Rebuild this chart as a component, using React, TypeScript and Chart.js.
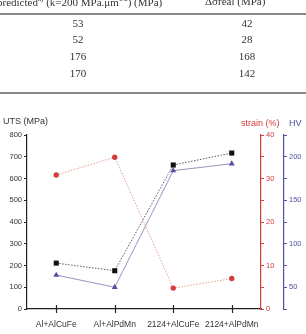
import React, { useEffect, useRef } from "react";
import { Chart, registerables } from "chart.js";

Chart.register(...registerables);

const categories = ["Al+AlCuFe", "Al+AlPdMn", "2124+AlCuFe", "2124+AlPdMn"];
const utsValues = [211, 176, 662, 717];
const strainValues = [30.8, 34.9, 4.8, 7.0];
const hvValues = [64, 50, 184, 192];

const tablePredicted = ["53", "52", "176", "170"];
const tableReal = ["42", "28", "168", "142"];

const RED = "#d43c3c";
const BLUE = "#4f4f9e";

const crossTicks = {
  id: "crossTicks",
  afterDraw(chart: any) {
    const x = chart.scales.x;
    const ctx = chart.ctx;
    ctx.save();
    ctx.strokeStyle = "#222";
    ctx.lineWidth = 1.2;
    categories.forEach((_, i) => {
      const px = Math.round(x.getPixelForValue(i)) + 0.5;
      ctx.beginPath();
      ctx.moveTo(px, x.top - 4);
      ctx.lineTo(px, x.top + 4);
      ctx.stroke();
    });
    ctx.restore();
  },
};

export default function App() {
  const ref = useRef<HTMLCanvasElement>(null);
  useEffect(() => {
    if (!ref.current) return;
    const font = { family: "Liberation Sans, Arial, sans-serif", size: 7.5 };
    const chart = new Chart(ref.current, {
      type: "line",
      data: {
        labels: categories,
        datasets: [
          {
            label: "UTS",
            data: utsValues,
            yAxisID: "y",
            borderColor: "#333",
            backgroundColor: "#111",
            borderWidth: 0.8,
            borderDash: [1.5, 1.5],
            pointStyle: "rect",
            pointRadius: 3.6,
            pointBorderWidth: 0,
          },
          {
            label: "strain",
            data: strainValues,
            yAxisID: "strain",
            borderColor: "#d98a7a",
            backgroundColor: RED,
            borderWidth: 0.8,
            borderDash: [1.5, 1.5],
            pointStyle: "circle",
            pointRadius: 2.7,
            pointBorderWidth: 0,
          },
          {
            label: "HV",
            data: hvValues,
            yAxisID: "hv",
            borderColor: "#7a7ab0",
            backgroundColor: BLUE,
            borderWidth: 0.8,
            pointStyle: "triangle",
            pointRadius: 3.4,
            pointBorderWidth: 0,
          },
        ],
      },
      options: {
        responsive: false,
        animation: false,
        devicePixelRatio: 1,
        layout: { padding: { top: 135, bottom: 0, left: 0, right: 0 } },
        plugins: { legend: { display: false }, tooltip: { enabled: false } },
        scales: {
          x: {
            offset: true,
            grid: { display: false, drawOnChartArea: false, offset: false },
            border: { display: true, color: "#222", width: 1.2 },
            ticks: { color: "#333", font: { family: "Liberation Sans, Arial, sans-serif", size: 8.5 }, padding: 3, maxRotation: 0, autoSkip: false },
            afterFit: (s: any) => { s.height = 25; },
          },
          y: {
            position: "left",
            min: 0,
            max: 800,
            border: { display: true, color: "#222", width: 1.2 },
            grid: { drawOnChartArea: false, drawTicks: true, tickLength: 3, color: "#222" },
            ticks: {
              stepSize: 50,
              color: "#333",
              font,
              padding: 2,
              callback: (v: any) => (Number(v) % 100 === 0 ? String(v) : ""),
            },
            afterFit: (s: any) => { s.width = 27; },
          },
          strain: {
            position: "right",
            min: 0,
            max: 40,
            border: { display: true, color: RED, width: 1.2 },
            grid: { drawOnChartArea: false, drawTicks: true, tickLength: 3, color: RED },
            ticks: {
              stepSize: 5,
              color: RED,
              font,
              padding: 2,
              callback: (v: any) => (Number(v) % 10 === 0 ? String(v) : ""),
            },
            afterFit: (s: any) => { s.width = 23; },
          },
          hv: {
            position: "right",
            min: 25,
            max: 225,
            border: { display: true, color: BLUE, width: 1.2 },
            grid: { drawOnChartArea: false, drawTicks: true, tickLength: 3, color: BLUE },
            ticks: {
              stepSize: 25,
              color: BLUE,
              font,
              padding: 2,
              callback: (v: any) => (Number(v) % 50 === 0 ? String(v) : ""),
            },
            afterFit: (s: any) => { s.width = 22; },
          },
        },
      },
      plugins: [crossTicks],
    } as any);
    return () => chart.destroy();
  }, []);

  const serif = "'Liberation Serif', 'Times New Roman', serif";
  const sans = "'Liberation Sans', Arial, sans-serif";
  const rowY = [17, 33, 50, 67];

  return (
    <div style={{ position: "fixed", left: 0, top: 0, width: 306, height: 334, background: "#fff", overflow: "hidden" }}>
      <canvas ref={ref} width={306} height={334} style={{ position: "absolute", left: 0, top: 0, width: 306, height: 334 }} />
      <div style={{ position: "absolute", left: -3, top: -5, fontFamily: serif, fontSize: 11, color: "#333", whiteSpace: "nowrap" }}>
        predicted<sup style={{ fontSize: 7 }}>a)</sup> (k=200 MPa.μm<sup style={{ fontSize: 7 }}>1/2</sup>) (MPa)
      </div>
      <div style={{ position: "absolute", left: 205, top: -5, fontFamily: serif, fontSize: 11, color: "#333", whiteSpace: "nowrap" }}>
        Δσreal (MPa)
      </div>
      <div style={{ position: "absolute", left: 0, top: 13, width: 306, height: 2, background: "#888" }} />
      {tablePredicted.map((t, i) => (
        <div key={"p" + i} style={{ position: "absolute", left: 48, width: 60, top: rowY[i], textAlign: "center", fontFamily: serif, fontSize: 11, color: "#333" }}>{t}</div>
      ))}
      {tableReal.map((t, i) => (
        <div key={"r" + i} style={{ position: "absolute", left: 217, width: 60, top: rowY[i], textAlign: "center", fontFamily: serif, fontSize: 11, color: "#333" }}>{t}</div>
      ))}
      <div style={{ position: "absolute", left: 0, top: 92, width: 306, height: 2, background: "#888" }} />
      <div style={{ position: "absolute", left: 3, top: 116, fontFamily: sans, fontSize: 9, color: "#333", whiteSpace: "nowrap" }}>UTS (MPa)</div>
      <div style={{ position: "absolute", left: 241, top: 118, fontFamily: sans, fontSize: 9, color: RED, whiteSpace: "nowrap" }}>strain (%)</div>
      <div style={{ position: "absolute", left: 289, top: 118, fontFamily: sans, fontSize: 9, color: BLUE, whiteSpace: "nowrap" }}>HV</div>
    </div>
  );
}
